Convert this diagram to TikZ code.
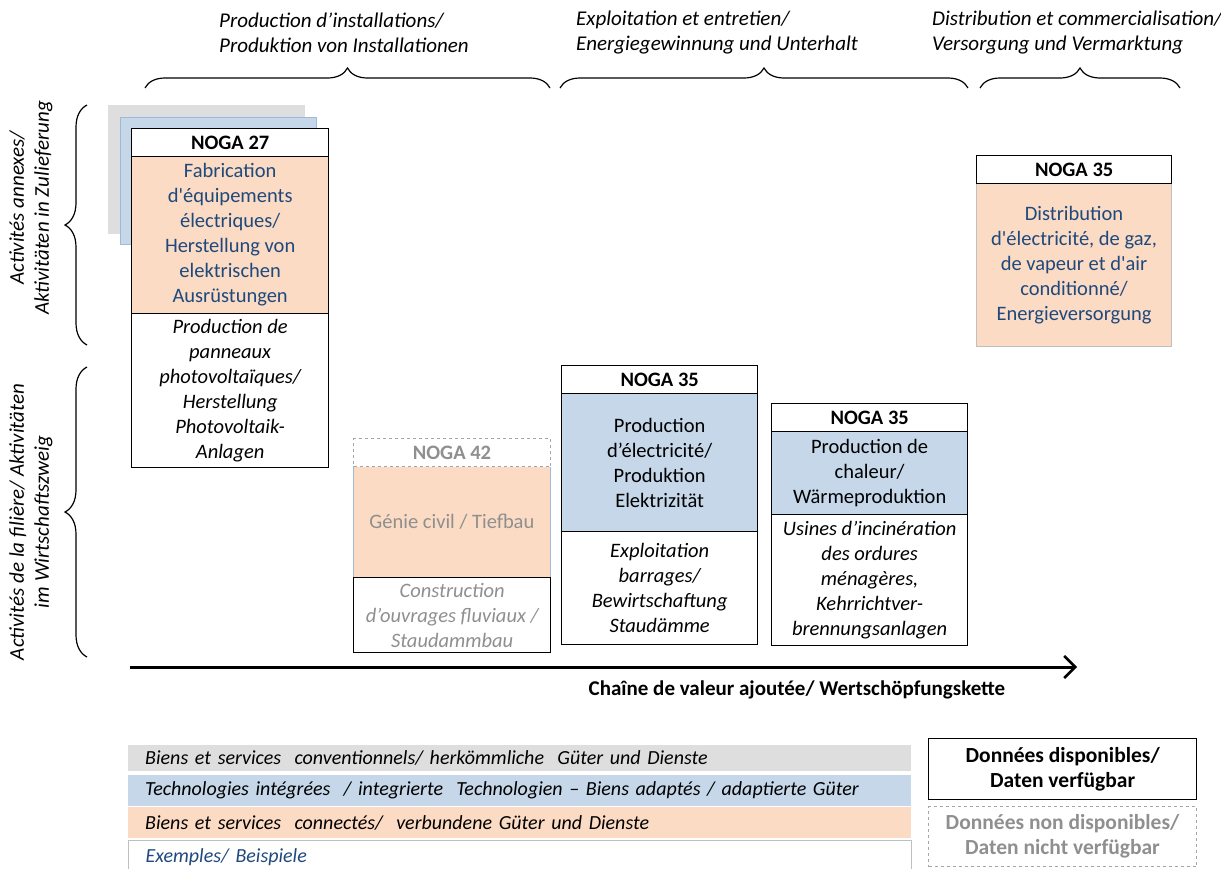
\documentclass[tikz,border=0pt]{standalone}
\usepackage{fontspec}
\setmainfont{Carlito}[Ligatures=TeXOff]
\usetikzlibrary{arrows.meta,decorations.pathreplacing}
\definecolor{legray}{HTML}{DEDEDE}
\definecolor{leblue}{HTML}{C5D7E9}
\definecolor{leblueedge}{HTML}{9DBADB}
\definecolor{lepeach}{HTML}{FBDBC3}
\definecolor{navytext}{HTML}{1F497D}
\definecolor{dimtext}{HTML}{8F8F8F}
\definecolor{dashgray}{HTML}{A6A6A6}
\definecolor{softedge}{HTML}{BFBFBF}
\newcommand\dgfont{\fontsize{20.5}{25}\selectfont}
\newcommand\dglegfont{\fontsize{20}{25}\selectfont}
\newcommand\dgtopfont{\fontsize{21}{25}\selectfont}
\begin{document}
\begin{tikzpicture}[x=1pt,y=-1pt,
  every node/.style={font=\dgfont, inner sep=0pt},
  cell/.style={rectangle, anchor=north west, minimum width=197, align=center},
  hdr/.style={cell, draw=black, line width=1.3pt, fill=white, minimum height=28, font=\dgfont\bfseries},
  hdrna/.style={cell, draw=dashgray, dashed, line width=1pt, fill=white, minimum height=28, font=\dgfont\bfseries, text=dimtext},
  body/.style={cell, line width=1.3pt},
  example/.style={cell, draw=black, line width=1.3pt, fill=white, font=\dgfont\itshape},
  bracket/.style={decorate, decoration={brace, amplitude=20pt}, line width=1.2pt},
  sidelabel/.style={rotate=90, align=center, font=\dgtopfont\itshape},
  toplabel/.style={anchor=west, align=left, font=\dgtopfont\itshape},
  legbar/.style={anchor=north west, text width=749, inner xsep=17, align=left, font=\dglegfont\itshape},
  datakey/.style={anchor=north west, minimum width=268, minimum height=61, align=center, line width=1.3pt, font=\fontsize{21.5}{25}\selectfont\bfseries}
]
\useasboundingbox (0,0) rectangle (1221,868);

% ---------- column headings with braces ----------
\node[toplabel] (t1) at (219,33) {Production d’installations/\\Produktion von Installationen};
\node[toplabel] (t2) at (576,33) {Exploitation et entretien/\\Energiegewinnung und Unterhalt};
\node[toplabel] (t3) at (932,33) {Distribution et commercialisation/\\Versorgung und Vermarktung};
\coordinate (b1l) at (145,88); \coordinate (b1r) at (550,88);
\coordinate (b2l) at (560,88); \coordinate (b2r) at (968,88);
\coordinate (b3l) at (980,88); \coordinate (b3r) at (1180,88);
\draw[bracket] (b1l) -- (b1r);
\draw[bracket] (b2l) -- (b2r);
\draw[bracket] (b3l) -- (b3r);

% ---------- row headings with braces ----------
\node[sidelabel] (s1) at (31,208) {Activités annexes/\\Aktivitäten in Zulieferung};
\node[sidelabel] (s2) at (31,522) {Activités de la filière/ Aktivitäten\\im Wirtschaftszweig};
\coordinate (r1b) at (87,345); \coordinate (r1t) at (87,105);
\coordinate (r2b) at (87,657); \coordinate (r2t) at (87,367);
\draw[bracket, decoration={amplitude=22pt}] (r1b) -- (r1t);
\draw[bracket, decoration={amplitude=22pt}] (r2b) -- (r2t);

% ---------- NOGA 27 stack ----------
\node[anchor=north west, fill=legray, minimum width=197, minimum height=129] (back1) at (108,105) {};
\node[anchor=north west, fill=leblue, draw=leblueedge, line width=1pt, minimum width=196, minimum height=127] (back2) at (120,117) {};
\node[body, fill=lepeach, draw=black, minimum height=158, text=navytext] (b27) at (131,155)
  {Fabrication\\d'équipements\\électriques/\\Herstellung von\\elektrischen\\Ausrüstungen};
\node[hdr] (h27) at (131,128) {NOGA 27};
\node[example, minimum height=154] (e27) at (131,313)
  {Production de\\panneaux\\photovoltaïques/\\Herstellung\\Photovoltaik-\\Anlagen};

% ---------- NOGA 42 stack (no data) ----------
\node[body, fill=lepeach, draw=leblueedge, line width=0.8pt, minimum height=111, text=dimtext] (b42) at (353,466)
  {Génie civil / Tiefbau};
\node[hdrna] (h42) at (353,438) {NOGA 42};
\node[example, minimum height=75, text=dimtext] (e42) at (353,577)
  {Construction\\d’ouvrages fluviaux /\\Staudammbau};

% ---------- NOGA 35 electricity ----------
\node[body, fill=leblue, draw=black, minimum height=138, minimum width=196] (b35e) at (561,393)
  {Production\\d’électricité/\\Produktion\\Elektrizität};
\node[hdr, minimum width=196] (h35e) at (561,365) {NOGA 35};
\node[example, minimum height=113, minimum width=196] (e35e) at (561,531)
  {Exploitation\\barrages/\\Bewirtschaftung\\Staudämme};

% ---------- NOGA 35 heat ----------
\node[body, fill=leblue, draw=black, minimum height=83, minimum width=196] (b35h) at (771,431)
  {Production de\\chaleur/\\Wärmeproduktion};
\node[hdr, minimum width=196] (h35h) at (771,403) {NOGA 35};
\node[example, minimum height=131, minimum width=196] (e35h) at (771,514)
  {Usines d’incinération\\des ordures\\ménagères,\\Kehrrichtver-\\brennungsanlagen};

% ---------- NOGA 35 distribution ----------
\node[body, fill=lepeach, draw=softedge, line width=1pt, minimum height=163, minimum width=195, text=navytext] (b35d) at (976,183)
  {Distribution\\d'électricité, de gaz,\\de vapeur et d'air\\conditionné/\\Energieversorgung};
\node[hdr, minimum width=195] (h35d) at (976,155) {NOGA 35};

% ---------- value chain axis ----------
\coordinate (vs) at (130,667);
\coordinate (ve) at (1077,667);
\draw[line width=3pt, -{Straight Barb[length=11pt, width=22pt, line width=2.6pt]}] (vs) -- (ve);
\node[font=\fontsize{21}{25}\selectfont\bfseries] (vlabel) at (797,690) {Chaîne de valeur ajoutée/ Wertschöpfungskette};

% ---------- colour legend ----------
\node[legbar, fill=legray, minimum height=26] (lk1) at (128,745)
  {Biens et services\ \ conventionnels/\ herkömmliche\ \ Güter und Dienste};
\node[legbar, fill=leblue, minimum height=31] (lk2) at (128,775)
  {Technologies intégrées\ \ / integrierte\ \ Technologien – Biens adaptés / adaptierte Güter};
\node[legbar, fill=lepeach, minimum height=31] (lk3) at (128,807)
  {Biens et services\ \ connectés/\ \ verbundene Güter\ und Dienste};
\node[legbar, draw=softedge, line width=1pt, minimum height=34, text=navytext] (lk4) at (128,840)
  {Exemples/ Beispiele};

% ---------- data availability legend ----------
\node[datakey, draw=black] (dk1) at (928,738) {Données disponibles/\\Daten verfügbar};
\node[datakey, draw=dashgray, dashed, line width=1pt, minimum height=60, text=dimtext] (dk2) at (928,806)
  {Données non disponibles/\\Daten nicht verfügbar};
\end{tikzpicture}
\end{document}
